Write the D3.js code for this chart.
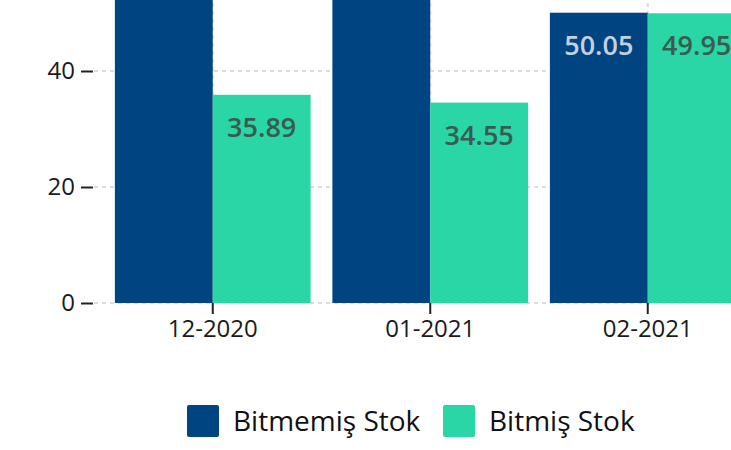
<!DOCTYPE html>
<html>
<head>
<meta charset="utf-8">
<script src="https://cdn.jsdelivr.net/npm/d3@7"></script>
<style>
  html, body { margin: 0; padding: 0; background: #fff; overflow: hidden; }
  svg { display: block; font-family: "Open Sans", sans-serif; }
</style>
</head>
<body>
<svg id="chart" width="731" height="450"></svg>
<script>
const categories = ["12-2020", "01-2021", "02-2021"];
const seriesNames = ["Bitmemiş Stok", "Bitmiş Stok"];
const bitmemis = [64.11, 65.45, 50.05];
const bitmis = [35.89, 34.55, 49.95];
const yTicks = [0, 20, 40, 60, 80, 100];
const colors = ["#004481", "#2ad5a6"];
const labelColors = ["#c3d0df", "#385c50"];

const svg = d3.select("#chart");

const y = d3.scaleLinear().domain([0, 100]).range([303, -277]);
const x = d3.scaleBand().domain(categories).range([104, 104 + 3 * 217.5])
  .paddingInner(0.1).paddingOuter(0.05);
const xs = d3.scaleBand().domain(seriesNames).range([0, x.bandwidth()]);

const plotLeft = 94, plotRight = 104 + 3 * 217.5 + 10;

// horizontal grid
svg.append("g").selectAll("line").data(yTicks).join("line")
  .attr("x1", plotLeft).attr("x2", plotRight)
  .attr("y1", d => y(d)).attr("y2", d => y(d))
  .attr("stroke", "#dcdcdc").attr("stroke-width", 2)
  .attr("stroke-dasharray", "4,4");
// vertical grid
svg.append("g").selectAll("line").data(categories).join("line")
  .attr("x1", d => x(d) + x.bandwidth() / 2).attr("x2", d => x(d) + x.bandwidth() / 2)
  .attr("y1", y(100)).attr("y2", y(0))
  .attr("stroke", "#dcdcdc").attr("stroke-width", 2)
  .attr("stroke-dasharray", "4,4");

const series = [bitmemis, bitmis];
series.forEach((vals, si) => {
  const g = svg.append("g");
  g.selectAll("rect").data(categories).join("rect")
    .attr("x", d => x(d) + xs(seriesNames[si]))
    .attr("width", xs.bandwidth())
    .attr("y", (d, i) => y(vals[i]))
    .attr("height", (d, i) => y(0) - y(vals[i]))
    .attr("fill", colors[si]);
  g.selectAll("text").data(categories).join("text")
    .attr("x", d => x(d) + xs(seriesNames[si]) + xs.bandwidth() / 2)
    .attr("y", (d, i) => y(vals[i]) + 42)
    .attr("text-anchor", "middle")
    .attr("font-size", 27).attr("font-weight", 600)
    .attr("fill", labelColors[si])
    .text((d, i) => vals[i].toFixed(2));
});

// y axis
const yAxis = svg.append("g").attr("transform", `translate(${plotLeft - 1},0)`)
  .call(d3.axisLeft(y).tickValues(yTicks).tickSize(12).tickPadding(6));
yAxis.select(".domain").remove();
yAxis.selectAll(".tick line").attr("stroke", "#222").attr("stroke-width", 2);
yAxis.selectAll(".tick text").attr("font-size", 24).attr("fill", "#1a1a1a")
  .attr("font-family", "Open Sans, sans-serif");

// x axis
const xAxis = svg.append("g").attr("transform", `translate(0,${y(0)})`)
  .call(d3.axisBottom(x).tickSize(11).tickPadding(6));
xAxis.select(".domain").remove();
xAxis.selectAll(".tick line").attr("stroke", "#222").attr("stroke-width", 2);
xAxis.selectAll(".tick text").attr("font-size", 24).attr("fill", "#1a1a1a")
  .attr("font-family", "Open Sans, sans-serif");

// legend
const legendX = [187, 443];
const lg = svg.append("g");
seriesNames.forEach((name, i) => {
  lg.append("rect").attr("x", legendX[i]).attr("y", 405)
    .attr("width", 32).attr("height", 32).attr("rx", 2)
    .attr("fill", colors[i]);
  lg.append("text").attr("x", legendX[i] + 46).attr("y", 431)
    .attr("font-size", 28).attr("fill", "#111").text(name);
});
</script>
</body>
</html>
